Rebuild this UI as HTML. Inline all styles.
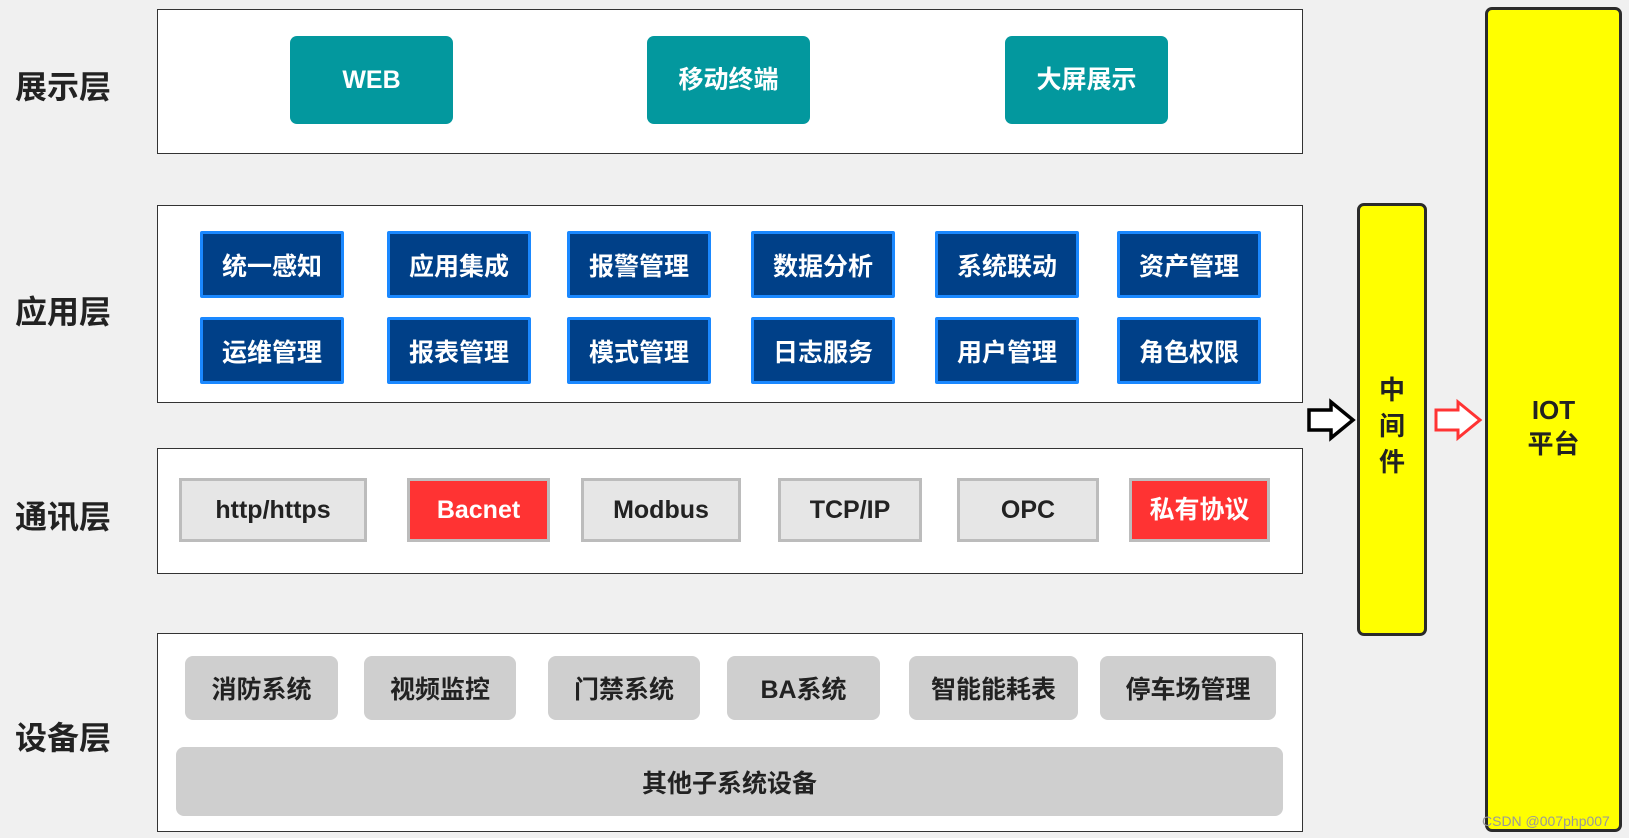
<!DOCTYPE html>
<html><head><meta charset="utf-8"><style>
body{margin:0;width:1629px;height:838px;background:#f0f0f0;position:relative;overflow:hidden;font-family:"Liberation Sans","Noto Sans CJK SC",sans-serif;font-weight:bold}
div{position:absolute;box-sizing:border-box}
.p{background:#fff;border:1.5px solid #333}
.l{left:4px;width:118px;text-align:center;font-size:32px;color:#222}
.t{background:#03989e;color:#fff;border-radius:7px;display:flex;align-items:center;justify-content:center;font-size:25px;top:36px;height:88px;width:163px;line-height:1}
.a{background:#004088;border:3px solid #1a88ff;color:#fff;display:flex;align-items:center;justify-content:center;font-size:25px;width:144px;height:67px;border-radius:2px}
.c{background:#e6e6e6;border:3px solid #bcbcbc;color:#222;display:flex;align-items:center;justify-content:center;font-size:25px;top:478px;height:64px;line-height:1}
.r{background:#ff3333;color:#fff}
.d{background:#cfcfcf;border-radius:8px;color:#222;display:flex;align-items:center;justify-content:center;font-size:25px;top:656px;height:64px}
</style></head><body>
<div class="l" style="top:62px">展示层</div>
<div class="l" style="top:287px">应用层</div>
<div class="l" style="top:492px">通讯层</div>
<div class="l" style="top:713px">设备层</div>

<div class="p" style="left:157px;top:9px;width:1146px;height:145px"></div>
<div class="t" style="left:290px">WEB</div>
<div class="t" style="left:647px">移动终端</div>
<div class="t" style="left:1005px">大屏展示</div>

<div class="p" style="left:157px;top:205px;width:1146px;height:198px"></div>
<div class="a" style="left:200px;top:231px">统一感知</div>
<div class="a" style="left:387px;top:231px">应用集成</div>
<div class="a" style="left:567px;top:231px">报警管理</div>
<div class="a" style="left:751px;top:231px">数据分析</div>
<div class="a" style="left:935px;top:231px">系统联动</div>
<div class="a" style="left:1117px;top:231px">资产管理</div>
<div class="a" style="left:200px;top:317px">运维管理</div>
<div class="a" style="left:387px;top:317px">报表管理</div>
<div class="a" style="left:567px;top:317px">模式管理</div>
<div class="a" style="left:751px;top:317px">日志服务</div>
<div class="a" style="left:935px;top:317px">用户管理</div>
<div class="a" style="left:1117px;top:317px">角色权限</div>

<div class="p" style="left:157px;top:448px;width:1146px;height:126px"></div>
<div class="c" style="left:179px;width:188px">http/https</div>
<div class="c r" style="left:407px;width:143px">Bacnet</div>
<div class="c" style="left:581px;width:160px">Modbus</div>
<div class="c" style="left:778px;width:144px">TCP/IP</div>
<div class="c" style="left:957px;width:142px">OPC</div>
<div class="c r" style="left:1129px;width:141px">私有协议</div>

<div class="p" style="left:157px;top:633px;width:1146px;height:199px"></div>
<div class="d" style="left:185px;width:153px">消防系统</div>
<div class="d" style="left:364px;width:152px">视频监控</div>
<div class="d" style="left:548px;width:152px">门禁系统</div>
<div class="d" style="left:727px;width:153px">BA系统</div>
<div class="d" style="left:909px;width:169px">智能能耗表</div>
<div class="d" style="left:1100px;width:176px">停车场管理</div>
<div class="d" style="left:176px;top:747px;width:1107px;height:69px">其他子系统设备</div>

<div style="left:1357px;top:203px;width:70px;height:433px;background:#ffff00;border:3px solid #2b2b2b;border-radius:7px;font-size:26px;color:#222;text-align:center;padding-top:166px;line-height:36px">中<br>间<br>件</div>
<div style="left:1485px;top:7px;width:137px;height:825px;background:#ffff00;border:3px solid #2b2b2b;border-radius:7px;font-size:26px;color:#222;text-align:center;padding-top:383px;line-height:34px">IOT<br>平台</div>

<svg style="position:absolute;left:0;top:0" width="1629" height="838">
<path d="M1309 410 H1331 V402 L1353 420 L1331 438 V430 H1309 Z" fill="#fff" stroke="#000" stroke-width="3.5" stroke-linejoin="miter"/>
<path d="M1436 410 H1458 V402 L1480 420 L1458 438 V430 H1436 Z" fill="#fff" stroke="#ff3333" stroke-width="3" stroke-linejoin="miter"/>
<text x="1482" y="826" font-family="Liberation Sans" font-size="14" fill="#999" font-weight="normal">CSDN @007php007</text>
</svg>
</body></html>
